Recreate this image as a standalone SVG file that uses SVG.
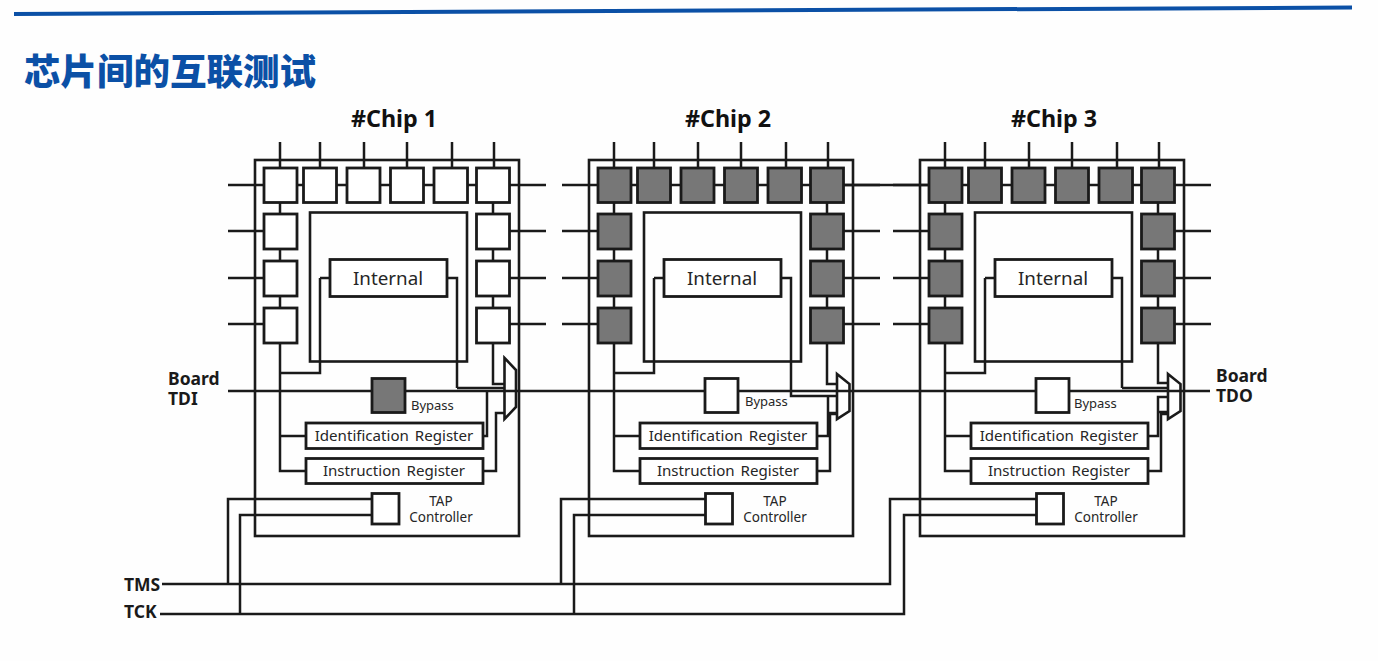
<svg xmlns="http://www.w3.org/2000/svg" xmlns:xlink="http://www.w3.org/1999/xlink" width="1378" height="661" viewBox="0 0 1378 661">
<style>
text{font-family:"Noto Sans","Open Sans","Noto Sans CJK SC",sans-serif;fill:#262626}
.title{font-family:"Noto Sans CJK SC",sans-serif;font-weight:900;font-size:36.500px;fill:#0b50a6}
.chip{font-weight:700;font-size:23.300px;text-anchor:middle;fill:#111}
.board{font-weight:700;font-size:17.500px;fill:#1a1a1a}
.int{font-size:18.800px;text-anchor:middle}
.reg{font-size:15.100px;text-anchor:middle;word-spacing:2px}
.small{font-size:13px}
.tap{font-size:13.500px;text-anchor:middle}
.w{fill:none;stroke:#1a1a1a;stroke-width:2.500;stroke-linejoin:miter}
.b{fill:#fff;stroke:#1a1a1a;stroke-width:2.800}
.g{fill:#777;stroke:#1a1a1a;stroke-width:2.800}
.f{fill:none;stroke:#1a1a1a;stroke-width:2.600}
</style>
<defs>
<path id="pinsTop" class="w" d="M280 142V168M320 142V168M364 142V168M407 142V168M452 142V168M494 142V168M264 185H476M280 202V308M493 202V308M280 343V373M320 278V373H280M330 278H320M447 278H457V388"/>
<path id="pinsLeft" class="w" d="M228 185H264M228 231H264M228 278H264M228 324H264"/>
<path id="pinsRight" class="w" d="M510 185H546M510 231H546M510 278H546M510 324H546"/>
<path id="trunk" class="w" d="M280 373V471H306M280 436H306"/>
</defs>
<rect width="1378" height="661" fill="#fefefe"/>
<polygon points="14,12 1352,5.500 1352,9.500 14,16" fill="#0b50a6"/>
<text class="title" x="24" y="85">芯片间的互联测试</text>

<g id="connectors">
<use href="#pinsTop"/><use href="#pinsLeft"/><use href="#pinsRight"/><use href="#trunk"/>
<use href="#pinsTop" x="334"/><use href="#pinsLeft" x="334"/><use href="#pinsRight" x="334"/><use href="#trunk" x="334"/>
<use href="#pinsTop" x="665"/><use href="#pinsLeft" x="665"/><use href="#pinsRight" x="665"/><use href="#trunk" x="665"/>
<path class="w" d="M844 185H929"/>
<path class="w" d="M228 391H1210"/>
<path class="w" d="M457 388H504M493 343V384H504M483 436H487V391M483 471H496V413H504"/>
<path class="w" d="M791 388V396H837M827 343V384H837M817 436H828V396M828 413H837M817 471H830V414H837"/>
<path class="w" d="M1122 388H1168M1158 343V383H1168M1149 436H1158V397H1168M1158 412H1168M1149 471H1161V414H1168"/>
<path class="w" d="M162 584H890V499H1036M160 614H904V515H1036"/>
<path class="w" d="M228 584V499H372M240 614V515H372"/>
<path class="w" d="M561 584V499H705M574 614V515H705"/>
</g>

<g id="chip1">
<g id="chip1-frame"><rect class="f" x="255" y="160" width="264" height="376"/><text class="chip" x="394" y="127">#Chip 1</text></g>
<g id="chip1-core"><rect class="f" x="310" y="212.500" width="157" height="149"/></g>
<g id="chip1-internal"><rect class="b" x="330" y="259.500" width="117" height="37"/><text class="int" x="388" y="285">Internal</text></g>
<g id="chip1-t1"><rect class="b" x="264" y="168" width="33" height="34.500"/></g>
<g id="chip1-t2"><rect class="b" x="303.500" y="168" width="33" height="34.500"/></g>
<g id="chip1-t3"><rect class="b" x="347" y="168" width="33" height="34.500"/></g>
<g id="chip1-t4"><rect class="b" x="390.500" y="168" width="33" height="34.500"/></g>
<g id="chip1-t5"><rect class="b" x="434" y="168" width="33.500" height="34.500"/></g>
<g id="chip1-t6"><rect class="b" x="476.500" y="168" width="33" height="34.500"/></g>
<g id="chip1-l1"><rect class="b" x="264" y="214" width="33" height="35"/></g>
<g id="chip1-l2"><rect class="b" x="264" y="261" width="33" height="35"/></g>
<g id="chip1-l3"><rect class="b" x="264" y="308" width="33" height="35"/></g>
<g id="chip1-r1"><rect class="b" x="476.500" y="214" width="33" height="35"/></g>
<g id="chip1-r2"><rect class="b" x="476.500" y="261" width="33" height="35"/></g>
<g id="chip1-r3"><rect class="b" x="476.500" y="308" width="33" height="35"/></g>
<g id="chip1-bypass"><rect class="g" x="372" y="378.500" width="33" height="34"/><text class="small" x="411" y="410">Bypass</text></g>
<g id="chip1-idreg"><rect class="b" x="306" y="423" width="177" height="25.500"/><text class="reg" x="394" y="441">Identification Register</text></g>
<g id="chip1-ireg"><rect class="b" x="306" y="458.500" width="177" height="25"/><text class="reg" x="394" y="476">Instruction Register</text></g>
<g id="chip1-tap"><rect class="b" x="372" y="493.500" width="27" height="30.500"/><text class="tap" x="441" y="506">TAP</text><text class="tap" x="441" y="522">Controller</text></g>
<g id="chip1-mux"><polygon class="f" points="504.500,358 516,370 516,407 504.500,419"/></g>
</g>

<g id="chip2">
<g id="chip2-frame"><rect class="f" x="589" y="160" width="264" height="376"/><text class="chip" x="728" y="127">#Chip 2</text></g>
<g id="chip2-core"><rect class="f" x="644" y="212.500" width="157" height="149"/></g>
<g id="chip2-internal"><rect class="b" x="664" y="259.500" width="117" height="37"/><text class="int" x="722" y="285">Internal</text></g>
<g id="chip2-t1"><rect class="g" x="598" y="168" width="33" height="34.500"/></g>
<g id="chip2-t2"><rect class="g" x="637.500" y="168" width="33" height="34.500"/></g>
<g id="chip2-t3"><rect class="g" x="681" y="168" width="33" height="34.500"/></g>
<g id="chip2-t4"><rect class="g" x="724.500" y="168" width="33" height="34.500"/></g>
<g id="chip2-t5"><rect class="g" x="768" y="168" width="33.500" height="34.500"/></g>
<g id="chip2-t6"><rect class="g" x="810.500" y="168" width="33" height="34.500"/></g>
<g id="chip2-l1"><rect class="g" x="598" y="214" width="33" height="35"/></g>
<g id="chip2-l2"><rect class="g" x="598" y="261" width="33" height="35"/></g>
<g id="chip2-l3"><rect class="g" x="598" y="308" width="33" height="35"/></g>
<g id="chip2-r1"><rect class="g" x="810.500" y="214" width="33" height="35"/></g>
<g id="chip2-r2"><rect class="g" x="810.500" y="261" width="33" height="35"/></g>
<g id="chip2-r3"><rect class="g" x="810.500" y="308" width="33" height="35"/></g>
<g id="chip2-bypass"><rect class="b" x="705" y="378.500" width="33" height="34"/><text class="small" x="745" y="406">Bypass</text></g>
<g id="chip2-idreg"><rect class="b" x="640" y="423" width="177" height="25.500"/><text class="reg" x="728" y="441">Identification Register</text></g>
<g id="chip2-ireg"><rect class="b" x="640" y="458.500" width="177" height="25"/><text class="reg" x="728" y="476">Instruction Register</text></g>
<g id="chip2-tap"><rect class="b" x="705.500" y="493.500" width="27" height="30.500"/><text class="tap" x="775" y="506">TAP</text><text class="tap" x="775" y="522">Controller</text></g>
<g id="chip2-mux"><polygon class="f" points="837,374 849.500,384 849.500,411 837,419"/></g>
</g>

<g id="chip3">
<g id="chip3-frame"><rect class="f" x="920" y="160" width="264" height="376"/><text class="chip" x="1054" y="127">#Chip 3</text></g>
<g id="chip3-core"><rect class="f" x="975" y="212.500" width="157" height="149"/></g>
<g id="chip3-internal"><rect class="b" x="995" y="259.500" width="117" height="37"/><text class="int" x="1053" y="285">Internal</text></g>
<g id="chip3-t1"><rect class="g" x="929" y="168" width="33" height="34.500"/></g>
<g id="chip3-t2"><rect class="g" x="968.500" y="168" width="33" height="34.500"/></g>
<g id="chip3-t3"><rect class="g" x="1012" y="168" width="33" height="34.500"/></g>
<g id="chip3-t4"><rect class="g" x="1055.500" y="168" width="33" height="34.500"/></g>
<g id="chip3-t5"><rect class="g" x="1099" y="168" width="33.500" height="34.500"/></g>
<g id="chip3-t6"><rect class="g" x="1141.500" y="168" width="33" height="34.500"/></g>
<g id="chip3-l1"><rect class="g" x="929" y="214" width="33" height="35"/></g>
<g id="chip3-l2"><rect class="g" x="929" y="261" width="33" height="35"/></g>
<g id="chip3-l3"><rect class="g" x="929" y="308" width="33" height="35"/></g>
<g id="chip3-r1"><rect class="g" x="1141.500" y="214" width="33" height="35"/></g>
<g id="chip3-r2"><rect class="g" x="1141.500" y="261" width="33" height="35"/></g>
<g id="chip3-r3"><rect class="g" x="1141.500" y="308" width="33" height="35"/></g>
<g id="chip3-bypass"><rect class="b" x="1036" y="378.500" width="33" height="34"/><text class="small" x="1074" y="408">Bypass</text></g>
<g id="chip3-idreg"><rect class="b" x="971" y="423" width="177" height="25.500"/><text class="reg" x="1059" y="441">Identification Register</text></g>
<g id="chip3-ireg"><rect class="b" x="971" y="458.500" width="177" height="25"/><text class="reg" x="1059" y="476">Instruction Register</text></g>
<g id="chip3-tap"><rect class="b" x="1036.500" y="493.500" width="27" height="30.500"/><text class="tap" x="1106" y="506">TAP</text><text class="tap" x="1106" y="522">Controller</text></g>
<g id="chip3-mux"><polygon class="f" points="1168,374 1180.500,384 1180.500,411 1168,419"/></g>
</g>

<g id="labels">
<text class="board" x="168" y="385">Board<tspan x="168" dy="20">TDI</tspan></text>
<text class="board" x="1216" y="382">Board<tspan x="1216" dy="20">TDO</tspan></text>
<text class="board" x="124" y="591">TMS</text>
<text class="board" x="124" y="618">TCK</text>
</g>
</svg>
